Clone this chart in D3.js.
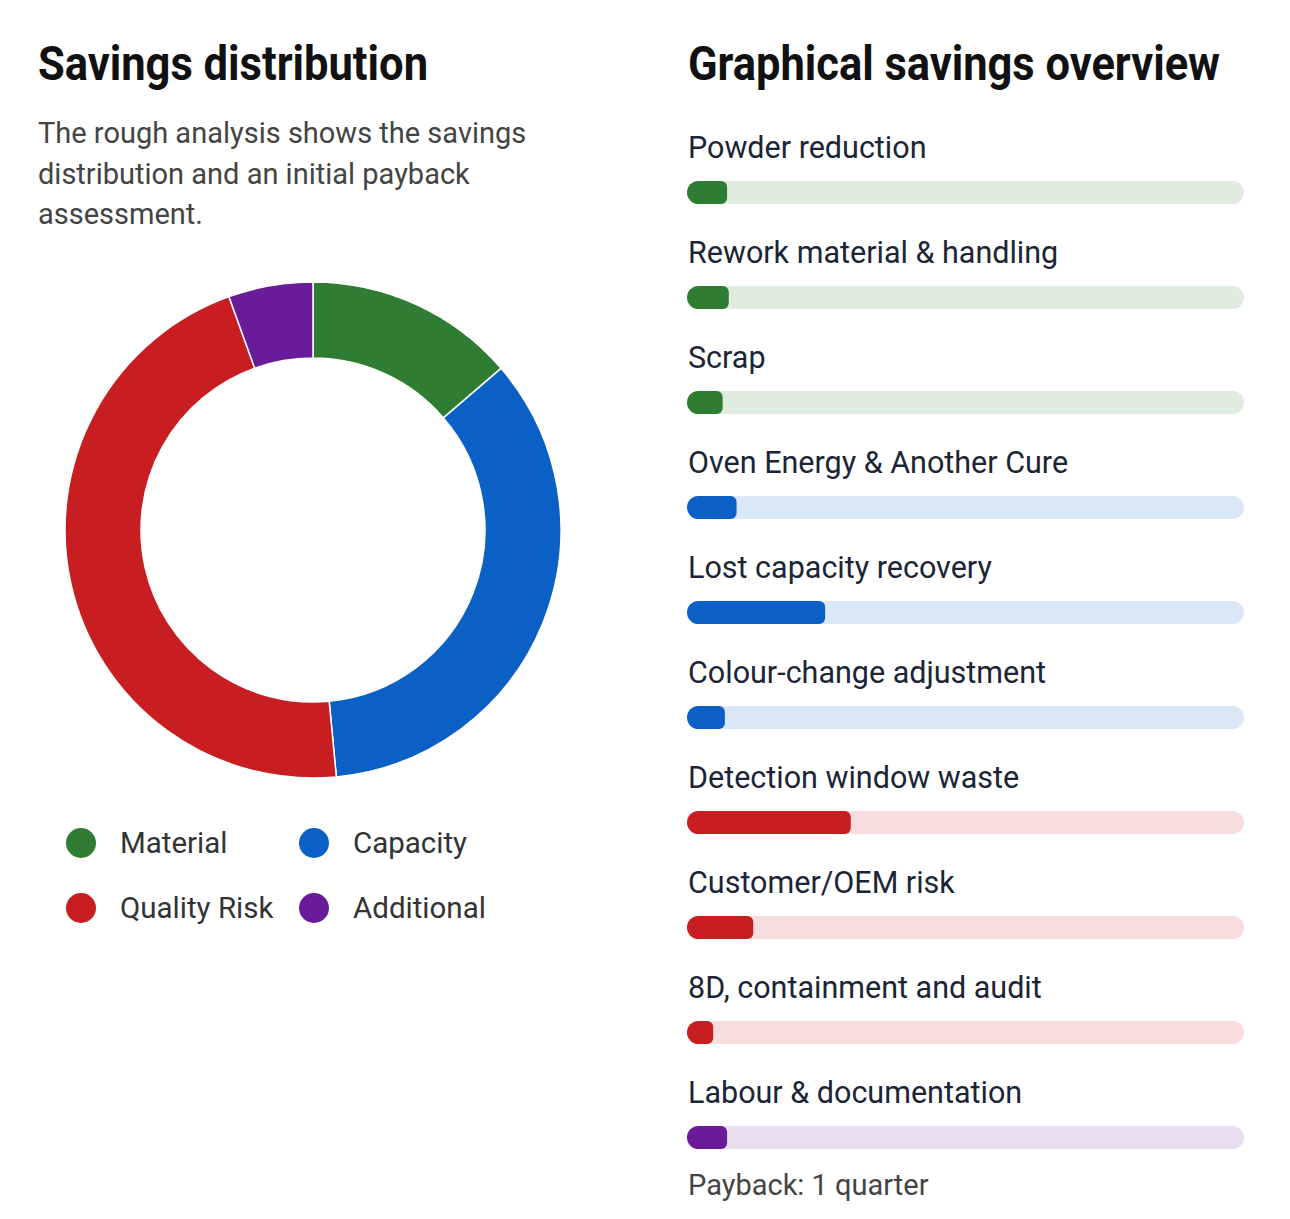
<!DOCTYPE html>
<html>
<head>
<meta charset="utf-8">
<script src="https://cdn.jsdelivr.net/npm/d3@7"></script>
<style>
  body { margin: 0; background: #fff; }
  svg text { font-family: Roboto, "Noto Sans", sans-serif; }
</style>
</head>
<body>
<div id="chart"></div>
<script>
// savings chart - donut on the left, progress bars on the right

const leftTitle = "Savings distribution";
const rightTitle = "Graphical savings overview";
const descLines = ["The rough analysis shows the savings", "distribution and an initial payback", "assessment."];
const paybackText = "Payback: 1 quarter";

const groups = ["Material", "Capacity", "Quality Risk", "Additional"];
const groupColors = ["#2e7d32", "#0a60c4", "#c81e22", "#6a1b9a"];
const groupShares = [13.7, 34.8, 46.0, 5.5];

const items = ["Powder reduction", "Rework material & handling", "Scrap", "Oven Energy & Another Cure",
               "Lost capacity recovery", "Colour-change adjustment", "Detection window waste",
               "Customer/OEM risk", "8D, containment and audit", "Labour & documentation"];
const itemGroup = ["Material", "Material", "Material", "Capacity", "Capacity", "Capacity",
                   "Quality Risk", "Quality Risk", "Quality Risk", "Additional"];
const itemValues = [7.2, 7.5, 6.4, 8.9, 24.8, 6.8, 29.4, 11.9, 4.7, 7.2];

const W = 1290, H = 1219;

const svg = d3.select("#chart").append("svg")
    .attr("width", W)
    .attr("height", H);

const color = d3.scaleOrdinal().domain(groups).range(groupColors);

// titles are drawn a bit taller and squeezed to width, like the original
function title(x, len, txt) {
    svg.append("text")
        .attr("x", x).attr("y", 80)
        .attr("font-size", 48).attr("font-weight", 700)
        .attr("fill", "#111")
        .attr("textLength", len)
        .attr("lengthAdjust", "spacingAndGlyphs")
        .text(txt);
}

// ---- left panel ----
title(38, 390, leftTitle);

svg.append("text")
    .attr("font-size", 29).attr("fill", "#444")
    .selectAll("tspan")
    .data(descLines)
    .join("tspan")
    .attr("x", 38)
    .attr("y", (d, i) => 143 + i * 40.5)
    .text(d => d);

const cx = 313, cy = 530;
const pie = d3.pie().sort(null).value(d => d);
const arc = d3.arc().innerRadius(172).outerRadius(248);

svg.append("g")
    .attr("transform", "translate(" + cx + "," + cy + ")")
    .selectAll("path")
    .data(pie(groupShares))
    .join("path")
    .attr("d", arc)
    .attr("fill", (d, i) => groupColors[i])
    .attr("stroke", "#fff")
    .attr("stroke-width", 1.5);

// legend, two columns
const legend = svg.append("g").selectAll("g")
    .data(groups)
    .join("g")
    .attr("transform", (d, i) => "translate(" + (81 + (i % 2) * 233) + "," + (843 + Math.floor(i / 2) * 65) + ")");
legend.append("circle")
    .attr("r", 15)
    .attr("fill", d => color(d));
legend.append("text")
    .attr("x", 39).attr("dy", "0.35em")
    .attr("font-size", 29.5).attr("fill", "#333")
    .text(d => d);

// ---- right panel ----
title(688, 532, rightTitle);

const trackX = 687, trackW = 557, barH = 23;
const xScale = d3.scaleLinear().domain([0, 100]).range([0, trackW]);
const yScale = d3.scalePoint().domain(items).range([181, 181 + 9 * 105]);

const defs = svg.append("defs");
defs.selectAll("clipPath")
    .data(items)
    .join("clipPath")
    .attr("id", (d, i) => "clip" + i)
    .append("rect")
    .attr("x", trackX)
    .attr("y", d => yScale(d))
    .attr("width", trackW)
    .attr("height", barH)
    .attr("rx", barH / 2);

const rows = svg.append("g").selectAll("g")
    .data(items)
    .join("g");

rows.append("text")
    .attr("x", 688)
    .attr("y", d => yScale(d) - 23)
    .attr("font-size", 30.5)
    .attr("fill", "#1b2535")
    .text(d => d);

rows.append("rect")
    .attr("x", trackX)
    .attr("y", d => yScale(d))
    .attr("width", trackW)
    .attr("height", barH)
    .attr("rx", barH / 2)
    .attr("fill", (d, i) => color(itemGroup[i]))
    .attr("fill-opacity", 0.15);

rows.append("g")
    .attr("clip-path", (d, i) => "url(#clip" + i + ")")
    .append("rect")
    .attr("x", trackX - 10)
    .attr("y", d => yScale(d))
    .attr("width", (d, i) => xScale(itemValues[i]) + 10)
    .attr("height", barH)
    .attr("rx", 6)
    .attr("fill", (d, i) => color(itemGroup[i]));

svg.append("text")
    .attr("x", 688).attr("y", 1195)
    .attr("font-size", 29).attr("fill", "#444")
    .text(paybackText);
</script>
</body>
</html>
